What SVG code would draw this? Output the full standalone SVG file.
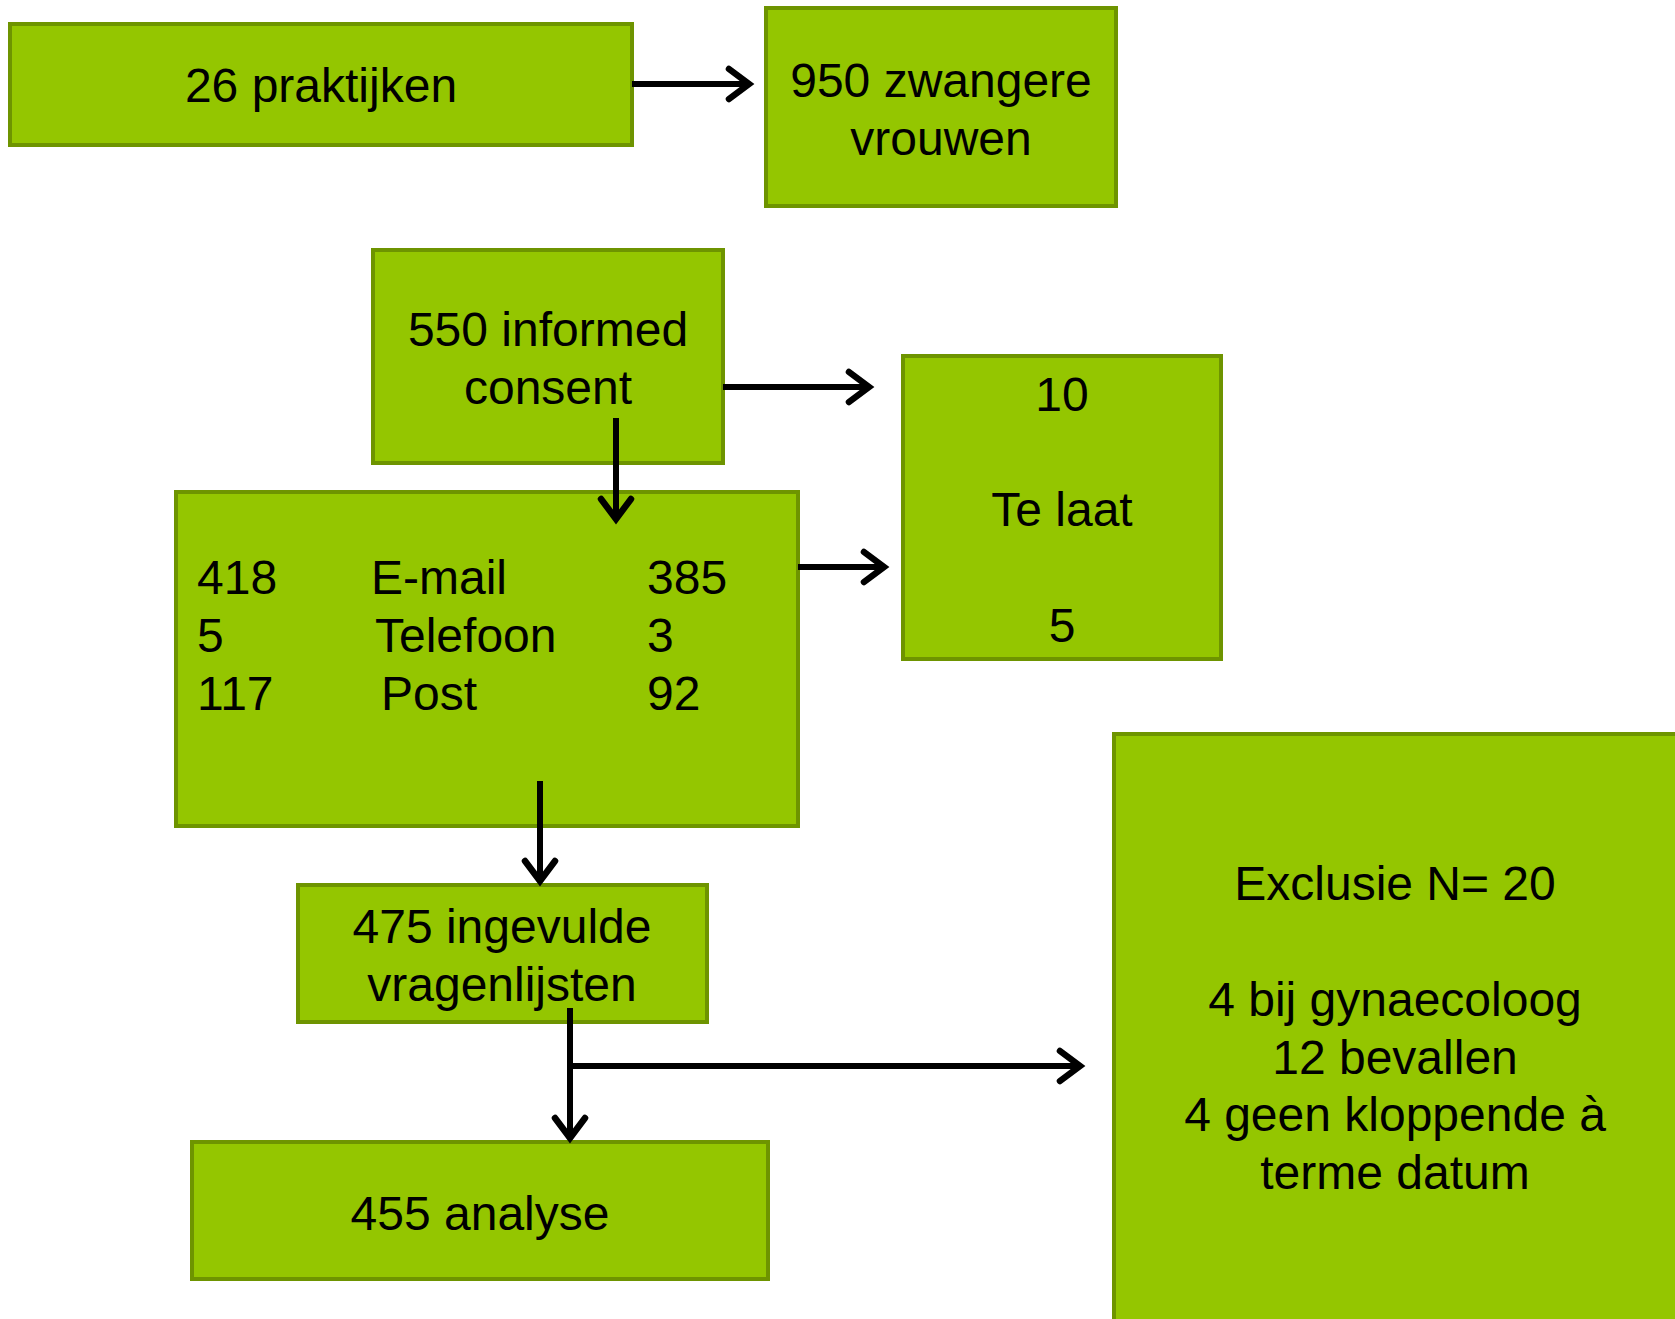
<svg xmlns="http://www.w3.org/2000/svg" width="1675" height="1319" viewBox="0 0 1675 1319">
<style>
.box{fill:#94C600;stroke:#6E9400;stroke-width:4}
.t{font-family:"Liberation Sans",Arial,sans-serif;font-size:48px;fill:#000}
.c{text-anchor:middle}
.con{stroke:#000;stroke-width:6;fill:none}
</style>
<defs>
<marker id="arr" markerUnits="userSpaceOnUse" markerWidth="40" markerHeight="40" viewBox="-25 -20 30 40" refX="0" refY="0" orient="auto" overflow="visible">
<path d="M -20 -15 L 0 0 L -20 15" fill="none" stroke="#000" stroke-width="6.5" stroke-linecap="round" stroke-linejoin="miter"/>
</marker>
</defs>
<rect width="1675" height="1319" fill="#fff"/>
<g id="n1"><rect class="box" x="10" y="24" width="622" height="121"/><text class="t c" x="321" y="102">26 praktijken</text></g>
<g id="n2"><rect class="box" x="766" y="8" width="350" height="198"/><text class="t c" x="941" y="97">950 zwangere</text><text class="t c" x="941" y="155">vrouwen</text></g>
<g id="n3"><rect class="box" x="373" y="250" width="350" height="213"/><text class="t c" x="548" y="346">550 informed</text><text class="t c" x="548" y="404">consent</text></g>
<g id="n4"><rect class="box" x="176" y="492" width="622" height="334"/>
<text class="t" x="197" y="594">418</text><text class="t" x="371" y="594">E-mail</text><text class="t" x="647" y="594">385</text>
<text class="t" x="197" y="652">5</text><text class="t" x="375" y="652">Telefoon</text><text class="t" x="647" y="652">3</text>
<text class="t" x="197" y="710">117</text><text class="t" x="381" y="710">Post</text><text class="t" x="647" y="710">92</text></g>
<g id="n5"><rect class="box" x="903" y="356" width="318" height="303"/><text class="t c" x="1062" y="411">10</text><text class="t c" x="1062" y="526">Te laat</text><text class="t c" x="1062" y="642">5</text></g>
<g id="n6"><rect class="box" x="298" y="885" width="409" height="137"/><text class="t c" x="502" y="943">475 ingevulde</text><text class="t c" x="502" y="1001">vragenlijsten</text></g>
<g id="n7"><rect class="box" x="192" y="1142" width="576" height="137"/><text class="t c" x="480" y="1230">455 analyse</text></g>
<g id="n8"><rect class="box" x="1114" y="734" width="600" height="640"/>
<text class="t c" x="1395" y="900">Exclusie N= 20</text>
<text class="t c" x="1395" y="1016">4 bij gynaecoloog</text>
<text class="t c" x="1395" y="1074">12 bevallen</text>
<text class="t c" x="1395" y="1131">4 geen kloppende à</text>
<text class="t c" x="1395" y="1189">terme datum</text></g>
<g id="connectors">
<line class="con" x1="632" y1="84" x2="749" y2="84" marker-end="url(#arr)"/>
<line class="con" x1="723" y1="387" x2="869" y2="387" marker-end="url(#arr)"/>
<line class="con" x1="616" y1="418" x2="616" y2="519" marker-end="url(#arr)"/>
<line class="con" x1="798" y1="567" x2="884" y2="567" marker-end="url(#arr)"/>
<line class="con" x1="540" y1="781" x2="540" y2="881" marker-end="url(#arr)"/>
<line class="con" x1="570" y1="1008" x2="570" y2="1138" marker-end="url(#arr)"/>
<line class="con" x1="570" y1="1066" x2="1080" y2="1066" marker-end="url(#arr)"/>
</g>
</svg>
